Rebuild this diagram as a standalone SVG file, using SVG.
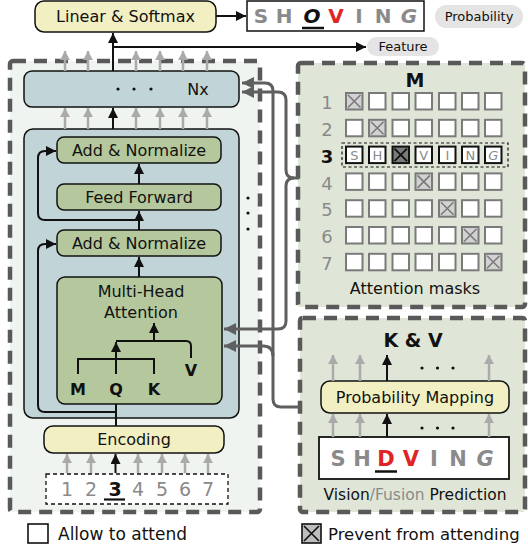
<svg xmlns="http://www.w3.org/2000/svg" width="528" height="550" viewBox="0 0 528 550">
<style>
text{font-family:"DejaVu Sans","Liberation Sans",sans-serif;fill:#111}
.t16{font-size:16px;text-anchor:middle;dominant-baseline:central}
.panel{stroke:#595959;stroke-width:4.5;stroke-dasharray:13 8}
.blue{fill:#c1d4d7;stroke:#111;stroke-width:1.5}
.green{fill:#b5c89d;stroke:#111;stroke-width:1.5}
.yellow{fill:#f2f0c3;stroke:#111;stroke-width:1.5}
.blk{fill:none;stroke:#111;stroke-width:2}
.gry{fill:none;stroke:#aaa;stroke-width:2.5;marker-end:url(#ag)}
.ab{marker-end:url(#ab)}
.dk{fill:none;stroke:#5f5f5f;stroke-width:3}
.dka{marker-end:url(#ad)}
.cell{fill:#fff;stroke:#7a7a7a;stroke-width:2}
.cellx{fill:#d2d2d2;stroke:#7a7a7a;stroke-width:2}
.xline{stroke:#7a7a7a;stroke-width:1.6}
.lg{font-size:18px;fill:#8a8a8a;text-anchor:middle}
.let{font-size:20px;font-weight:bold;fill:#8a8a8a;text-anchor:middle}
.bold{font-weight:bold}
</style>
<defs>
<marker id="ab" markerUnits="userSpaceOnUse" markerWidth="12" markerHeight="12" refX="10" refY="5" orient="auto"><path d="M0,0 L10,5 L0,10 Z" fill="#111"/></marker>
<marker id="ag" markerUnits="userSpaceOnUse" markerWidth="12" markerHeight="12" refX="9" refY="5" orient="auto"><path d="M0,0 L9,5 L0,10 Z" fill="#aaa"/></marker>
<marker id="ad" markerUnits="userSpaceOnUse" markerWidth="14" markerHeight="14" refX="12" refY="6" orient="auto"><path d="M0,0 L12,6 L0,12 Z" fill="#5f5f5f"/></marker>
<rect id="sq" width="16.5" height="16.5" class="cell"/>
<g id="sqx"><rect width="16.5" height="16.5" class="cellx"/><path d="M2,2 L14.5,14.5 M14.5,2 L2,14.5" class="xline"/></g>
</defs>

<!-- panels -->
<g id="encoder-panel"><rect x="10" y="61" width="250" height="451" rx="3" fill="#eff4f0" class="panel"/></g>
<g id="mask-panel"><rect x="298" y="63" width="227" height="244" rx="3" fill="#dfe6d7" class="panel"/></g>
<g id="prob-panel"><rect x="300" y="318" width="225" height="194" rx="3" fill="#dfe6d7" class="panel"/></g>

<!-- top -->
<g id="linear-softmax"><rect x="35" y="1" width="181" height="31" rx="9" class="yellow"/><text x="125.5" y="16.5" class="t16">Linear &amp; Softmax</text></g>
<g id="output-shoving">
<rect x="247" y="1" width="177" height="30" fill="#fff" stroke="#111" stroke-width="1.5"/>
<text x="261" y="23" class="let">S</text><text x="284" y="23" class="let">H</text>
<text x="312" y="23" class="let" style="fill:#111;font-style:italic">O</text>
<path d="M302,28 H324" stroke="#111" stroke-width="2.5"/>
<text x="336" y="23" class="let" style="fill:#e02424">V</text>
<text x="359" y="23" class="let">I</text><text x="383" y="23" class="let">N</text><text x="409" y="23" class="let" style="font-style:italic">G</text>
</g>
<g id="probability-label"><rect x="435" y="5" width="88" height="23" rx="11.5" fill="#e4e4e4"/><text x="479" y="16.5" class="t16" style="font-size:13px">Probability</text></g>
<g id="feature-label"><rect x="367" y="37" width="72" height="19" rx="9.5" fill="#e4e4e4"/><text x="403" y="46.5" class="t16" style="font-size:13px">Feature</text></g>

<!-- encoder blocks -->
<g id="nx-block"><rect x="24" y="71" width="215" height="36" rx="8" class="blue"/>
<circle cx="118" cy="89" r="1.6" fill="#111"/><circle cx="134" cy="89" r="1.6" fill="#111"/><circle cx="151" cy="89" r="1.6" fill="#111"/>
<text x="198" y="89" class="t16">Nx</text></g>
<g id="decoder-layer"><rect x="24" y="129" width="215" height="289" rx="9" class="blue"/></g>
<g id="add-norm-1"><rect x="57" y="137" width="164" height="26" rx="7" class="green"/><text x="139" y="150" class="t16">Add &amp; Normalize</text></g>
<g id="feed-forward"><rect x="57" y="184" width="164" height="26" rx="7" class="green"/><text x="139" y="197" class="t16">Feed Forward</text></g>
<g id="add-norm-2"><rect x="57" y="230" width="164" height="26" rx="7" class="green"/><text x="139" y="243" class="t16">Add &amp; Normalize</text></g>
<g id="multi-head-attention"><rect x="57" y="277" width="165" height="127" rx="8" class="green"/>
<text x="141" y="291" class="t16">Multi-Head</text><text x="141" y="312" class="t16">Attention</text>
<text x="78" y="389" class="t16 bold">M</text><text x="116" y="389" class="t16 bold">Q</text><text x="154" y="389" class="t16 bold">K</text><text x="191" y="370" class="t16 bold">V</text></g>
<g id="encoding"><rect x="44" y="426" width="180" height="27" rx="9" class="yellow"/><text x="134" y="439.5" class="t16">Encoding</text></g>
<g id="positions">
<rect x="46" y="474" width="182" height="30" fill="#fff" stroke="#111" stroke-width="1.3" stroke-dasharray="4 3"/>
<text x="67" y="496" class="lg" style="font-size:19px">1</text><text x="91" y="496" class="lg" style="font-size:19px">2</text>
<text x="115" y="496" class="lg bold" style="font-size:19px;fill:#111">3</text>
<path d="M104,499.5 H125" stroke="#111" stroke-width="2.2"/>
<text x="138" y="496" class="lg" style="font-size:19px">4</text><text x="162" y="496" class="lg" style="font-size:19px">5</text><text x="185" y="496" class="lg" style="font-size:19px">6</text><text x="208" y="496" class="lg" style="font-size:19px">7</text>
</g>
<g id="layer-dots"><circle cx="248" cy="198" r="1.6" fill="#111"/><circle cx="248" cy="213" r="1.6" fill="#111"/><circle cx="248" cy="229" r="1.6" fill="#111"/></g>

<!-- attention masks -->
<g id="attention-masks">
<text x="415" y="87" class="bold" style="font-size:19px;text-anchor:middle">M</text>
<text x="327" y="109" class="lg">1</text><text x="327" y="136" class="lg">2</text>
<text x="327" y="163" class="lg bold" style="fill:#111">3</text>
<text x="327" y="190" class="lg">4</text><text x="327" y="216" class="lg">5</text><text x="327" y="243" class="lg">6</text><text x="327" y="270" class="lg">7</text>
<!-- row1 -->
<use href="#sqx" x="346" y="93"/><use href="#sq" x="369" y="93"/><use href="#sq" x="392.5" y="93"/><use href="#sq" x="415.5" y="93"/><use href="#sq" x="439" y="93"/><use href="#sq" x="462" y="93"/><use href="#sq" x="485" y="93"/>
<!-- row2 -->
<use href="#sq" x="346" y="119.8"/><use href="#sqx" x="369" y="119.8"/><use href="#sq" x="392.5" y="119.8"/><use href="#sq" x="415.5" y="119.8"/><use href="#sq" x="439" y="119.8"/><use href="#sq" x="462" y="119.8"/><use href="#sq" x="485" y="119.8"/>
<!-- row3 -->
<rect x="342" y="143" width="166" height="24" fill="none" stroke="#111" stroke-width="1.2" stroke-dasharray="3 2.5"/>
<g stroke="#111" stroke-width="2" fill="#fff">
<rect x="346" y="146.6" width="16.5" height="16.5"/><rect x="369" y="146.6" width="16.5" height="16.5"/>
<rect x="392.5" y="146.6" width="16.5" height="16.5" fill="#7a7a7a"/>
<rect x="415.5" y="146.6" width="16.5" height="16.5"/><rect x="439" y="146.6" width="16.5" height="16.5"/><rect x="462" y="146.6" width="16.5" height="16.5"/><rect x="485" y="146.6" width="16.5" height="16.5"/>
</g>
<path d="M394.5,148.6 L407,161.1 M407,148.6 L394.5,161.1" stroke="#111" stroke-width="1.8"/>
<g style="font-size:13px;fill:#8a8a8a;text-anchor:middle">
<text x="354.3" y="159.6" style="fill:#8a8a8a">S</text><text x="377.3" y="159.6" style="fill:#8a8a8a">H</text><text x="423.8" y="159.6" style="fill:#8a8a8a">V</text><text x="447.3" y="159.6" style="fill:#8a8a8a">I</text><text x="470.3" y="159.6" style="fill:#8a8a8a">N</text><text x="493.3" y="159.6" style="fill:#8a8a8a;font-style:italic">G</text>
</g>
<!-- row4 -->
<use href="#sq" x="346" y="173.4"/><use href="#sq" x="369" y="173.4"/><use href="#sq" x="392.5" y="173.4"/><use href="#sqx" x="415.5" y="173.4"/><use href="#sq" x="439" y="173.4"/><use href="#sq" x="462" y="173.4"/><use href="#sq" x="485" y="173.4"/>
<!-- row5 -->
<use href="#sq" x="346" y="200.2"/><use href="#sq" x="369" y="200.2"/><use href="#sq" x="392.5" y="200.2"/><use href="#sq" x="415.5" y="200.2"/><use href="#sqx" x="439" y="200.2"/><use href="#sq" x="462" y="200.2"/><use href="#sq" x="485" y="200.2"/>
<!-- row6 -->
<use href="#sq" x="346" y="227"/><use href="#sq" x="369" y="227"/><use href="#sq" x="392.5" y="227"/><use href="#sq" x="415.5" y="227"/><use href="#sq" x="439" y="227"/><use href="#sqx" x="462" y="227"/><use href="#sq" x="485" y="227"/>
<!-- row7 -->
<use href="#sq" x="346" y="253.8"/><use href="#sq" x="369" y="253.8"/><use href="#sq" x="392.5" y="253.8"/><use href="#sq" x="415.5" y="253.8"/><use href="#sq" x="439" y="253.8"/><use href="#sq" x="462" y="253.8"/><use href="#sqx" x="485" y="253.8"/>
<text x="415" y="294" style="font-size:16px;text-anchor:middle">Attention masks</text>
</g>

<!-- probability mapping panel -->
<g id="kv-label"><text x="413" y="347" class="bold" style="font-size:19px;text-anchor:middle">K &amp; V</text></g>
<g id="probability-mapping"><rect x="321" y="381" width="188" height="32" rx="9" class="yellow"/><text x="415" y="397" class="t16">Probability Mapping</text></g>
<g id="prediction-shdving">
<rect x="319" y="437" width="190" height="42" fill="#fff" stroke="#111" stroke-width="1.8"/>
<text x="338" y="466" class="let" style="font-size:21px">S</text><text x="362" y="466" class="let" style="font-size:21px">H</text>
<text x="386" y="466" class="let" style="font-size:21px;fill:#e02424">D</text>
<text x="411" y="466" class="let" style="font-size:21px;fill:#e02424">V</text>
<text x="434" y="466" class="let" style="font-size:21px">I</text><text x="458" y="466" class="let" style="font-size:21px">N</text><text x="485" y="466" class="let" style="font-size:21px;font-style:italic">G</text>
<path d="M375,471.5 H397" stroke="#111" stroke-width="2.5"/>
</g>
<g id="prediction-caption"><text x="415" y="500" style="font-size:15.5px;text-anchor:middle">Vision<tspan style="fill:#8a8a8a">/Fusion</tspan> Prediction</text></g>
<g id="kv-dots"><circle cx="422" cy="368" r="1.6" fill="#111"/><circle cx="437.5" cy="368" r="1.6" fill="#111"/><circle cx="453" cy="368" r="1.6" fill="#111"/>
<circle cx="422" cy="428" r="1.6" fill="#111"/><circle cx="437.5" cy="428" r="1.6" fill="#111"/><circle cx="453" cy="428" r="1.6" fill="#111"/></g>

<!-- legend -->
<g id="legend-allow"><rect x="28" y="524" width="20" height="19" fill="#fff" stroke="#111" stroke-width="1.6"/><text x="58" y="540" style="font-size:17px">Allow to attend</text></g>
<g id="legend-prevent"><rect x="302" y="524" width="19" height="19" fill="#bdbdbd" stroke="#111" stroke-width="1.6"/><path d="M304,526 L319,541 M319,526 L304,541" stroke="#111" stroke-width="1.6"/><text x="328" y="540" style="font-size:16.5px">Prevent from attending</text></g>

<!-- connectors -->
<g id="connectors">
<path class="gry" d="M65,71 V51"/><path class="gry" d="M88,71 V51"/><path class="gry" d="M136,71 V51"/><path class="gry" d="M160,71 V51"/><path class="gry" d="M183,71 V51"/><path class="gry" d="M207,71 V51"/>
<path class="gry" d="M65,129 V108"/><path class="gry" d="M88,129 V108"/><path class="gry" d="M136,129 V108"/><path class="gry" d="M160,129 V108"/><path class="gry" d="M183,129 V108"/><path class="gry" d="M207,129 V108"/>
<path class="gry" d="M67,473 V454"/><path class="gry" d="M91,473 V454"/><path class="gry" d="M138,473 V454"/><path class="gry" d="M162,473 V454"/><path class="gry" d="M185,473 V454"/><path class="gry" d="M208,473 V454"/>
<path class="gry" d="M333,381 V355"/><path class="gry" d="M360,381 V355"/><path class="gry" d="M489,381 V355"/>
<path class="gry" d="M333,437 V414"/><path class="gry" d="M360,437 V414"/><path class="gry" d="M489,437 V414"/>
<path class="blk ab" d="M216,16 H246"/>
<path class="blk ab" d="M113,71 V33"/>
<path class="blk ab" d="M113,47 H366"/>
<path class="blk ab" d="M113,129 V108"/>
<path class="blk ab" d="M139,184 V164"/>
<path class="blk ab" d="M139,230 V211"/>
<path class="blk ab" d="M139,277 V257"/>
<path class="blk ab" d="M139,220 H45 Q38,220 38,213 V158 Q38,151 45,151 H56"/>
<path class="blk ab" d="M116,412 H45 Q38,412 38,405 V251 Q38,244 45,244 H56"/>
<path class="blk" d="M116,426 V404"/>
<path class="blk ab" d="M116,374 V342"/>
<path class="blk" d="M116,341 H186 Q191,341 191,346 V358"/>
<path class="blk ab" d="M154,341 V323"/>
<path class="blk" d="M78,374 V359 H154 V374"/>
<path class="blk ab" d="M115.5,473 V454"/>
<path class="blk ab" d="M387,381 V355"/>
<path class="blk ab" d="M387,437 V414"/>
<path class="dk dka" d="M300,407 H281 Q273,407 273,399 V91 Q273,83 265,83 H242"/>
<path class="dk dka" d="M273,356 Q273,346 263,346 H224"/>
<path class="dk dka" d="M299,178 H294 Q286,178 286,170 V100 Q286,92 278,92 H242"/>
<path class="dk dka" d="M294,178 Q286,178 286,186 V321 Q286,329 278,329 H224"/>
</g>
</svg>
